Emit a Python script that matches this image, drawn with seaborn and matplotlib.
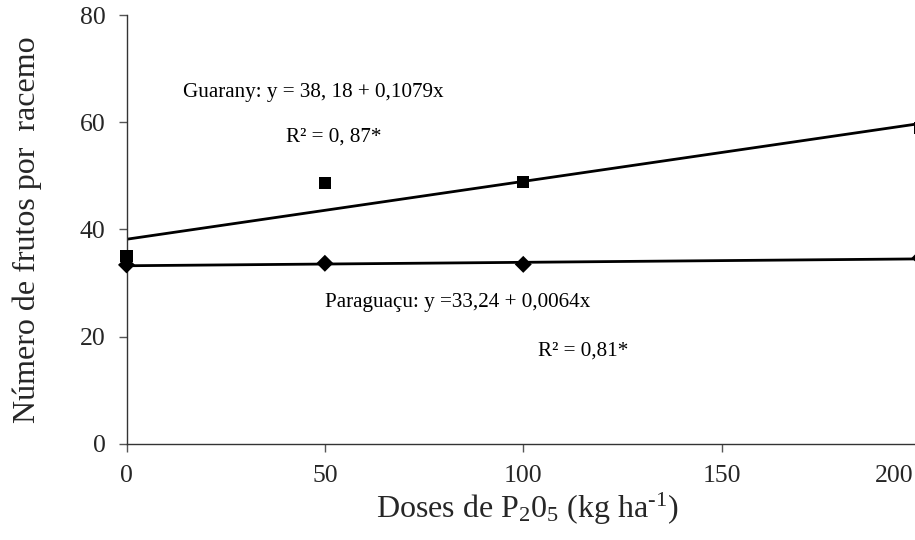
import numpy as np
import pandas as pd
import matplotlib
matplotlib.use("Agg")
import matplotlib.pyplot as plt
import matplotlib.transforms as mtransforms
import seaborn as sns

# Doses of P2O5 (kg/ha) and fruit counts per raceme
doses = [0, 50, 100, 200]
guarany = [35.0, 48.6, 48.8, 59.0]
paraguacu = [33.4, 33.7, 33.5, 34.7]

# Fitted linear regressions (intercept, slope)
guarany_fit = (38.18, 0.1079)
paraguacu_fit = (33.24, 0.0064)

x_ticks = [0, 50, 100, 150, 200]
y_ticks = [0, 20, 40, 60, 80]

sns.set_style("ticks")
plt.rcParams["font.family"] = ["Liberation Serif", "DejaVu Serif"]
plt.rcParams["mathtext.fontset"] = "custom"
plt.rcParams["mathtext.rm"] = "Liberation Serif"
plt.rcParams["mathtext.it"] = "Liberation Serif:italic"

fig = plt.figure(figsize=(9.15, 5.40), dpi=100)
W, H = 915, 540
x0_px, x200_px = 126.5, 920.0
y0_px, y80_px = 444.0, 15.0
ax = fig.add_axes([x0_px / W, (H - y0_px) / H,
                   (x200_px - x0_px) / W, (y0_px - y80_px) / H])

pts = pd.DataFrame({
    "dose": doses * 2,
    "frutos": guarany + paraguacu,
    "cultivar": ["Guarany"] * 4 + ["Paraguaçu"] * 4,
})

# Trend lines from the regression equations
xs = np.array([min(doses), max(doses)], dtype=float)
lines = pd.DataFrame({
    "dose": np.concatenate([xs, xs]),
    "frutos": np.concatenate([guarany_fit[0] + guarany_fit[1] * xs,
                              paraguacu_fit[0] + paraguacu_fit[1] * xs]),
    "cultivar": ["Guarany"] * 2 + ["Paraguaçu"] * 2,
})
sns.lineplot(data=lines, x="dose", y="frutos", units="cultivar", estimator=None,
             color="black", linewidth=2.0, ax=ax, legend=False)

sns.scatterplot(data=pts, x="dose", y="frutos", style="cultivar",
                markers={"Guarany": "s", "Paraguaçu": "D"},
                s=75, color="black", edgecolor="black",
                linewidth=0, ax=ax, legend=False, zorder=5)
for coll in ax.collections:
    coll.set_clip_on(False)

ax.set_xlim(0, 200)
ax.set_ylim(0, 80)
ax.set_xticks(x_ticks)
ax.set_yticks(y_ticks)
ax.tick_params(axis="both", direction="out", length=6, width=1.0,
               color="#555555", labelsize=18.5, pad=9)
sns.despine(ax=ax, top=True, right=True)
for sp in ("left", "bottom"):
    ax.spines[sp].set_color("#333333")
    ax.spines[sp].set_linewidth(1.0)

# keep the last tick label inside the canvas
last = ax.get_xticklabels()[-1]
last.set_horizontalalignment("right")
last.set_transform(last.get_transform() +
                   mtransforms.ScaledTranslation(-7 / 100, 0, fig.dpi_scale_trans))

ax.set_xlabel(r"Doses de P$_{\mathregular{2}}$0$_{\mathregular{5}}$ (kg ha$^{\text{-1}}$)",
              fontsize=23, labelpad=6)
ax.xaxis.set_label_coords(0.5 + 4 / (x200_px - x0_px), -0.11)
ax.xaxis.label.set_verticalalignment("top")
ax.set_ylabel("Número de frutos por  racemo", fontsize=23, labelpad=27)

txt = dict(fontsize=15.2, ha="left", va="center", color="black")
ax.text(14.2, 65.6, "Guarany: y = 38, 18 + 0,1079x", **txt)
ax.text(40.2, 57.2, "R² = 0, 87*", **txt)
ax.text(50.0, 26.3, "Paraguaçu: y =33,24 + 0,0064x", **txt)
ax.text(103.7, 17.3, "R² = 0,81*", **txt)

fig.savefig("out.png", dpi=100)
